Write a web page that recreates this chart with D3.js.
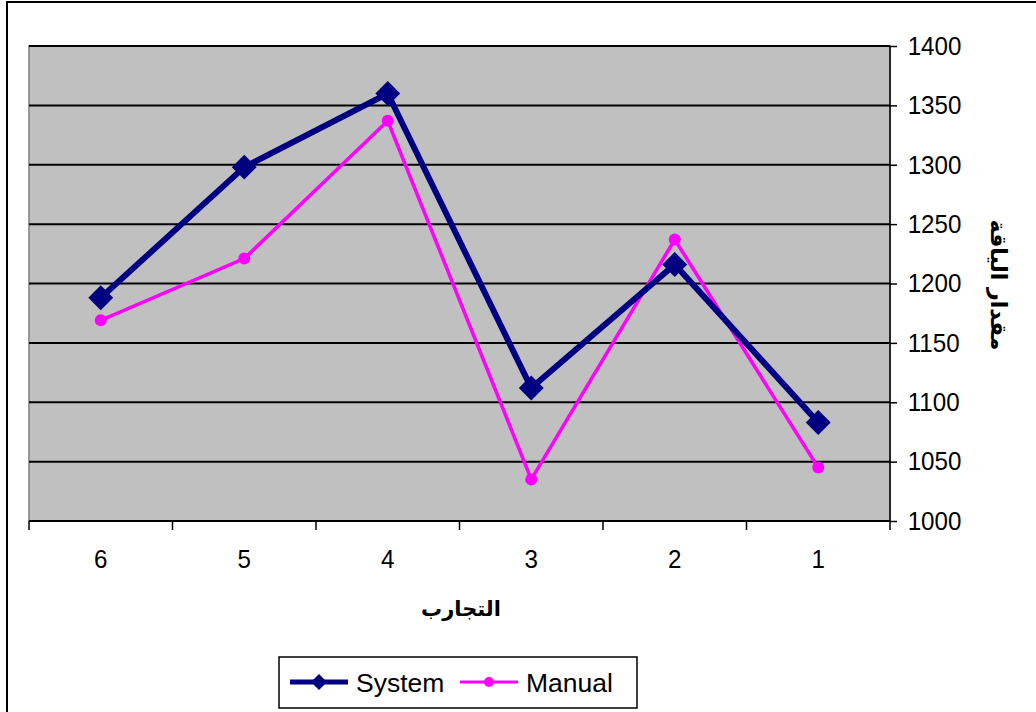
<!DOCTYPE html>
<html><head><meta charset="utf-8">
<script src="https://cdn.jsdelivr.net/npm/d3@7"></script>
<style>body{margin:0;background:#fff}svg{display:block}</style>
</head><body>
<script>
const categories = ["6","5","4","3","2","1"];
const systemValues = [1188, 1298, 1360, 1112, 1216, 1083];
const manualValues = [1169, 1221, 1337, 1035, 1237, 1045];
const yTicks = [1000,1050,1100,1150,1200,1250,1300,1350,1400];
const seriesNames = ["System","Manual"];
const xTitle = "التجارب";
const yTitle = "مقدار الياقة";

const W=1036,H=712;
const svg=d3.select("body").append("svg").attr("width",W).attr("height",H);
svg.append("rect").attr("x",7).attr("y",2).attr("width",1040).attr("height",720)
  .attr("fill","#fff").attr("stroke","#000").attr("stroke-width",2);

const L=29,R=890,T=46,B=521;
const x=d3.scaleBand().domain(categories).range([L,R]);
const y=d3.scaleLinear().domain([1000,1400]).range([B,T]);
const font="'Liberation Sans',Arial,sans-serif";

svg.append("rect").attr("x",L).attr("y",T).attr("width",R-L).attr("height",B-T)
  .attr("fill","#C0C0C0").attr("stroke","#808080").attr("stroke-width",1.5);

// gridlines
svg.append("g").selectAll("line").data(yTicks.filter(d=>d>1000)).join("line")
  .attr("x1",L).attr("x2",R).attr("y1",d=>y(d)).attr("y2",d=>y(d))
  .attr("stroke","#000").attr("stroke-width",2);

// right axis
const ya=svg.append("g").attr("transform",`translate(${R},0)`)
  .call(d3.axisRight(y).tickValues(yTicks).tickSize(7).tickPadding(12).tickFormat(d3.format("d")));
ya.select(".domain").attr("stroke","#000").attr("stroke-width",1.5).attr("d",`M0,${T}V${B}`);
ya.selectAll(".tick line").attr("stroke","#000").attr("stroke-width",1.5);
ya.selectAll("text").attr("font-family",font).attr("font-size",26).attr("fill","#000")
  .attr("transform","scale(0.93,1)");

// bottom axis
const xa=svg.append("g").attr("transform",`translate(0,${B})`)
  .call(d3.axisBottom(x).tickSize(0).tickPadding(29));
xa.select(".domain").attr("stroke","#000").attr("stroke-width",2).attr("d",`M${L},0H${R}`);
xa.selectAll("text").attr("font-family",font).attr("font-size",26).attr("fill","#000")
  .attr("transform","scale(0.93,1)");
const bounds=[...categories.map(c=>x(c)),R];
svg.append("g").selectAll("line").data(bounds).join("line")
  .attr("x1",d=>d).attr("x2",d=>d).attr("y1",B).attr("y2",B+9)
  .attr("stroke","#000").attr("stroke-width",1.5);

const cx=c=>x(c)+x.bandwidth()/2;
const line=d3.line().x((d,i)=>cx(categories[i])).y(d=>y(d));

svg.append("path").datum(manualValues).attr("d",line).attr("fill","none")
  .attr("stroke","#FF00FF").attr("stroke-width",3.5);
svg.append("path").datum(systemValues).attr("d",line).attr("fill","none")
  .attr("stroke","#000080").attr("stroke-width",6);
svg.append("g").selectAll("path").data(systemValues).join("path")
  .attr("d",d3.symbol().type(d3.symbolSquare).size(310))
  .attr("transform",(d,i)=>`translate(${cx(categories[i])},${y(d)}) rotate(45)`)
  .attr("fill","#000080");
svg.append("g").selectAll("circle").data(manualValues).join("circle")
  .attr("cx",(d,i)=>cx(categories[i])).attr("cy",d=>y(d)).attr("r",6).attr("fill","#FF00FF");

// titles
svg.append("text").attr("x",461).attr("y",616).attr("text-anchor","middle")
  .attr("font-family","'DejaVu Sans',sans-serif").attr("font-weight","bold").attr("font-size",21)
  .attr("direction","rtl").text(xTitle);
svg.append("text").attr("transform","translate(991,285) rotate(90)").attr("text-anchor","middle")
  .attr("font-family","'DejaVu Sans',sans-serif").attr("font-weight","bold").attr("font-size",22)
  .attr("direction","rtl").text(yTitle);

// legend
const lg=svg.append("g");
lg.append("rect").attr("x",279).attr("y",657).attr("width",358).attr("height",51)
  .attr("fill","#fff").attr("stroke","#000").attr("stroke-width",1.5);
const items=[{name:seriesNames[0],x:290,color:"#000080",w:5,tx:356},{name:seriesNames[1],x:460,color:"#FF00FF",w:3,tx:526}];
items.forEach((it,i)=>{
  lg.append("line").attr("x1",it.x).attr("x2",it.x+58).attr("y1",682).attr("y2",682)
    .attr("stroke",it.color).attr("stroke-width",it.w);
  if(i===0) lg.append("path").attr("d",d3.symbol().type(d3.symbolSquare).size(130)())
    .attr("transform",`translate(${it.x+29},682) rotate(45)`).attr("fill",it.color);
  else lg.append("circle").attr("cx",it.x+29).attr("cy",682).attr("r",5).attr("fill",it.color);
  lg.append("text").attr("x",it.tx).attr("y",692).attr("font-family",font)
    .attr("font-size",26.5).text(it.name);
});
</script>
</body></html>
